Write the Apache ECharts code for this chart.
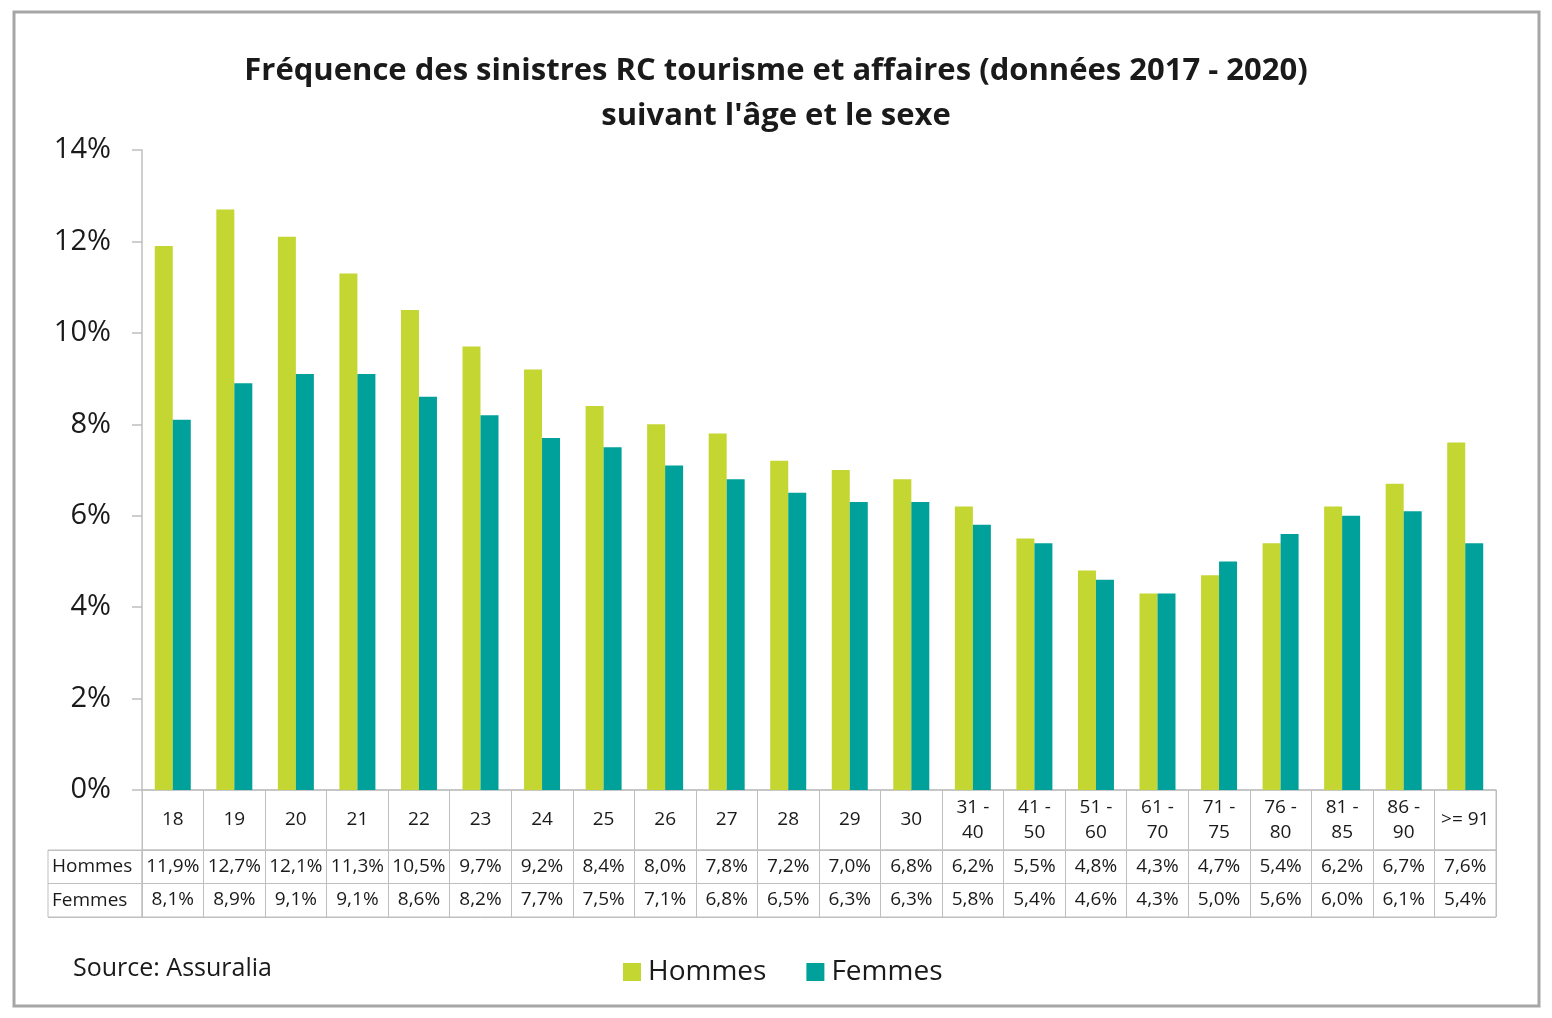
<!DOCTYPE html>
<html>
<head>
<meta charset="utf-8">
<script src="https://cdn.jsdelivr.net/npm/echarts@6/dist/echarts.min.js"></script>
<style>
  html, body { margin: 0; padding: 0; background: #fff; }
  #main { width: 1552px; height: 1018px; }
</style>
</head>
<body>
<div id="main"></div>
<script>
var categories = ['18', '19', '20', '21', '22', '23', '24', '25', '26', '27', '28', '29', '30',
  '31 - 40', '41 - 50', '51 - 60', '61 - 70', '71 - 75', '76 - 80', '81 - 85', '86 - 90', '>= 91'];
var hommes = [11.9, 12.7, 12.1, 11.3, 10.5, 9.7, 9.2, 8.4, 8.0, 7.8, 7.2, 7.0, 6.8,
  6.2, 5.5, 4.8, 4.3, 4.7, 5.4, 6.2, 6.7, 7.6];
var femmes = [8.1, 8.9, 9.1, 9.1, 8.6, 8.2, 7.7, 7.5, 7.1, 6.8, 6.5, 6.3, 6.3,
  5.8, 5.4, 4.6, 4.3, 5.0, 5.6, 6.0, 6.1, 5.4];
var seriesNames = ['Hommes', 'Femmes'];
var yTicks = [0, 2, 4, 6, 8, 10, 12, 14];

var colors = ['#c4d631', '#00a19a'];
var lineGray = '#bfbfbf';
var font = 'Open Sans';

function pct(v) {
  return v.toFixed(1).replace('.', ',') + '%';
}

var myChart = echarts.init(document.getElementById('main'));

// plot area and table rows
var plotLeft = 142, plotWidth = 1354;

var option = {
  animation: false,
  color: colors,
  textStyle: { fontFamily: font },
  title: [
    {
      text: 'Fréquence des sinistres RC tourisme et affaires (données 2017 - 2020)\nsuivant l\'âge et le sexe',
      left: 'center',
      top: 44,
      textStyle: { fontFamily: font, fontSize: 31, fontWeight: 'bold', color: '#1a1a1a', lineHeight: 45 }
    },
    {
      text: 'Source: Assuralia',
      left: 68,
      top: 951,
      textStyle: { fontFamily: font, fontSize: 25, fontWeight: 'normal', color: '#1a1a1a' }
    }
  ],
  legend: {
    data: seriesNames,
    left: 618,
    top: 953,
    itemWidth: 18,
    itemHeight: 18,
    itemGap: 40,
    icon: 'rect',
    textStyle: { fontFamily: font, fontSize: 28, color: '#1a1a1a', padding: [0, 0, 0, 2] }
  },
  graphic: [
    {
      type: 'rect',
      shape: { x: 14, y: 12, width: 1525, height: 994 },
      style: { fill: 'none', stroke: '#a6a6a6', lineWidth: 3 }
    }
  ],
  grid: [
    // main plot
    { left: plotLeft, width: plotWidth, top: 150, height: 640 },
    // header row (categories)
    { left: plotLeft, width: plotWidth, top: 790, height: 60, show: true, borderColor: lineGray, borderWidth: 1 },
    // value rows
    { left: plotLeft, width: plotWidth, top: 850, height: 67, show: true, borderColor: lineGray, borderWidth: 1 },
    // row label column
    { left: 48, width: 94, top: 850, height: 67, show: true, borderColor: lineGray, borderWidth: 1 }
  ],
  xAxis: [
    {
      gridIndex: 0,
      type: 'category',
      data: categories,
      axisLine: { lineStyle: { color: lineGray, width: 1.5 } },
      axisTick: { show: false },
      axisLabel: { show: false }
    },
    {
      gridIndex: 1,
      type: 'category',
      data: categories,
      position: 'top',
      axisLine: { show: false },
      axisTick: { show: false },
      splitLine: { show: true, lineStyle: { color: lineGray, width: 1 } },
      axisLabel: {
        inside: true,
        margin: 30,
        verticalAlign: 'middle',
        fontSize: 19,
        lineHeight: 25,
        color: '#1a1a1a',
        interval: 0,
        formatter: function (v) { return v.replace(' - ', ' -\n'); }
      }
    },
    {
      gridIndex: 2,
      type: 'category',
      data: categories,
      position: 'top',
      axisLine: { show: false },
      axisTick: { show: false },
      splitLine: { show: true, lineStyle: { color: lineGray, width: 1 } },
      axisLabel: {
        inside: true,
        margin: 17,
        verticalAlign: 'middle',
        fontSize: 19,
        color: '#1a1a1a',
        interval: 0,
        formatter: function (v, i) { return pct(hommes[i]); }
      }
    },
    {
      gridIndex: 2,
      type: 'category',
      data: categories,
      position: 'bottom',
      axisLine: { show: false },
      axisTick: { show: false },
      axisLabel: {
        inside: true,
        margin: 17,
        verticalAlign: 'middle',
        fontSize: 19,
        color: '#1a1a1a',
        interval: 0,
        formatter: function (v, i) { return pct(femmes[i]); }
      }
    },
    {
      gridIndex: 3,
      type: 'category',
      data: [''],
      show: false
    }
  ],
  yAxis: [
    {
      gridIndex: 0,
      type: 'value',
      min: yTicks[0],
      max: yTicks[yTicks.length - 1],
      interval: 2,
      axisLine: { show: true, lineStyle: { color: lineGray, width: 1.5 } },
      axisTick: { show: true, length: 10, lineStyle: { color: lineGray, width: 1.5 } },
      splitLine: { show: false },
      axisLabel: {
        margin: 31,
        fontSize: 29,
        color: '#1a1a1a',
        formatter: function (v) { return v + '%'; }
      }
    },
    {
      gridIndex: 1,
      type: 'value',
      show: false
    },
    {
      gridIndex: 2,
      type: 'category',
      data: seriesNames,
      inverse: true,
      axisLine: { show: false },
      axisTick: { show: false },
      axisLabel: { show: false },
      splitLine: { show: true, lineStyle: { color: lineGray, width: 1 } }
    },
    {
      gridIndex: 3,
      type: 'category',
      data: seriesNames,
      inverse: true,
      axisLine: { show: false },
      axisTick: { show: false },
      splitLine: { show: true, lineStyle: { color: lineGray, width: 1 } },
      axisLabel: {
        inside: true,
        align: 'left',
        margin: 4,
        fontSize: 19,
        color: '#1a1a1a'
      }
    }
  ],
  series: [
    {
      name: seriesNames[0],
      type: 'bar',
      xAxisIndex: 0,
      yAxisIndex: 0,
      barWidth: 18,
      barGap: '0%',
      data: hommes
    },
    {
      name: seriesNames[1],
      type: 'bar',
      xAxisIndex: 0,
      yAxisIndex: 0,
      barWidth: 18,
      barGap: '0%',
      data: femmes
    }
  ]
};

myChart.setOption(option);
window.addEventListener('resize', function () {
  myChart.resize();
});
</script>
</body>
</html>
